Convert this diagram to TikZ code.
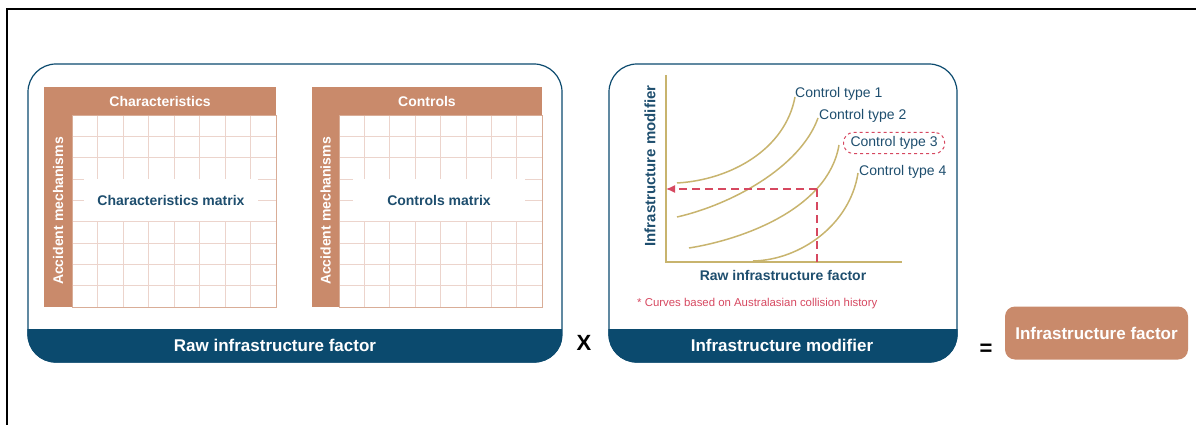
\documentclass[tikz,border=0pt]{standalone}
\usepackage{fontspec}
\setmainfont{Liberation Sans}
\usetikzlibrary{arrows.meta}
\definecolor{navy}{RGB}{11,74,110}
\definecolor{copper}{RGB}{201,138,107}
\definecolor{gridpink}{RGB}{236,212,204}
\definecolor{tan}{RGB}{200,180,110}
\definecolor{readred}{RGB}{214,72,96}
\definecolor{inkblue}{RGB}{30,78,110}
\tikzstyle{panel}=[draw=navy,line width=1.2pt,rounded corners=28pt,inner sep=0pt]
\tikzstyle{bartext}=[text=white,font=\bfseries\fontsize{17}{20}\selectfont]
\tikzstyle{headbar}=[fill=copper,text=white,inner sep=0pt,font=\bfseries\fontsize{14}{16}\selectfont]
\tikzstyle{gridline}=[draw=gridpink,line width=0.6pt]
\tikzstyle{matlabel}=[fill=white,text=inkblue,inner sep=0pt,font=\bfseries\fontsize{14}{16}\selectfont]
\tikzstyle{curve}=[draw=tan,line width=1.5pt]
\tikzstyle{ctlabel}=[anchor=west,text=inkblue,inner sep=0pt,font=\fontsize{14}{16}\selectfont]
\tikzstyle{readoff}=[color=readred,line width=1.3pt,dash pattern=on 8pt off 5pt]
\tikzstyle{sign}=[font=\bfseries\fontsize{22}{24}\selectfont]

\begin{document}
\begin{tikzpicture}[x=1pt,y=-1pt]
		\useasboundingbox (0,0) rectangle (1196,425);
		\draw[line width=1.5pt] (7,425) -- (7,9) -- (1196,9);
		% First we draw the two panels and their bars
		\node[panel,minimum width=534,minimum height=298] (rawp) at (295,213) {};
		\node[panel,minimum width=348,minimum height=298] (modp) at (783,213) {};
		\begin{scope}
			\clip[rounded corners=28pt] (rawp.south west) rectangle (rawp.north east);
			\fill[navy] (rawp.south west) rectangle ([yshift=34pt]rawp.south east);
		\end{scope}
		\begin{scope}
			\clip[rounded corners=28pt] (modp.south west) rectangle (modp.north east);
			\fill[navy] (modp.south west) rectangle ([yshift=34pt]modp.south east);
		\end{scope}
		\node[bartext] (rawt) at (275,345) {Raw infrastructure factor};
		\node[bartext] (modt) at (782,345) {Infrastructure modifier};
		% Characteristics matrix
		\node[headbar,minimum width=232,minimum height=28] (charh) at (160,101) {Characteristics};
		\node[headbar,minimum width=192,minimum height=28,rotate=90] (chars) at (58,211) {Accident mechanisms};
		\foreach \i in {1,...,7}
			\draw[gridline] ({72+\i*25.5},115) -- ({72+\i*25.5},307);
		\foreach \j in {1,...,8}
			\draw[gridline] (72,{115+\j*21.33}) -- (276,{115+\j*21.33});
		\draw[draw=copper!70,line width=0.8pt] (72,115) rectangle (276,307);
		\node[matlabel,minimum width=174,minimum height=42] (charm) at (171,200) {Characteristics matrix};
		% Controls matrix
		\node[headbar,minimum width=230,minimum height=28] (conh) at (427,101) {Controls};
		\node[headbar,minimum width=192,minimum height=28,rotate=90] (cons) at (325.5,211) {Accident mechanisms};
		\foreach \i in {1,...,7}
			\draw[gridline] ({339+\i*25.375},115) -- ({339+\i*25.375},307);
		\foreach \j in {1,...,8}
			\draw[gridline] (339,{115+\j*21.33}) -- (542,{115+\j*21.33});
		\draw[draw=copper!70,line width=0.8pt] (339,115) rectangle (542,307);
		\node[matlabel,minimum width=172,minimum height=42] (conm) at (439,200) {Controls matrix};
		% Curves of the modifier
		\coordinate (o) at (666,262);
		\coordinate (ytop) at (666,75);
		\coordinate (xend) at (902,262);
		\draw[curve] (ytop) -- (o) -- (xend);
		\draw[curve] (677,183) .. controls (730,180) and (785,150) .. (795,97);
		\draw[curve] (677,217) .. controls (730,205) and (800,168) .. (818,118);
		\draw[curve] (689,248) .. controls (740,240) and (828,210) .. (839,145);
		\draw[curve] (753,261) .. controls (800,260) and (850,225) .. (858,173);
		\coordinate (hit) at (817,189);
		\draw[readoff,-{Latex[length=9pt,width=8pt]}] (hit) -- (hit -| o);
		\draw[readoff] (hit) -- (hit |- o);
		\node[ctlabel] (ct1) at (795,94) {Control type 1};
		\node[ctlabel] (ct2) at (819,116) {Control type 2};
		\node[ctlabel,draw=readred,dashed,line width=1pt,rounded corners=10pt,inner xsep=7pt,inner ysep=4pt] (ct3) at (843,143) {Control type 3};
		\node[ctlabel] (ct4) at (859,172) {Control type 4};
		\node[text=inkblue,rotate=90,font=\bfseries\fontsize{15}{17}\selectfont] (ylab) at (650,166) {Infrastructure modifier};
		\node[text=inkblue,font=\bfseries\fontsize{14}{16}\selectfont] (xlab) at (783,275) {Raw infrastructure factor};
		\node[anchor=west,text=readred,inner sep=0pt,font=\fontsize{11.4}{13}\selectfont] (note) at (637,304) {* Curves based on Australasian collision history};
		% Result
		\node[sign] (times) at (584,343) {X};
		\node[sign] (equals) at (986,350) {=};
		\node[fill=copper,rounded corners=10pt,minimum width=183,minimum height=53,text=white,font=\bfseries\fontsize{17}{20}\selectfont] (inff) at (1096.5,333) {Infrastructure factor};
\end{tikzpicture}
\end{document}
